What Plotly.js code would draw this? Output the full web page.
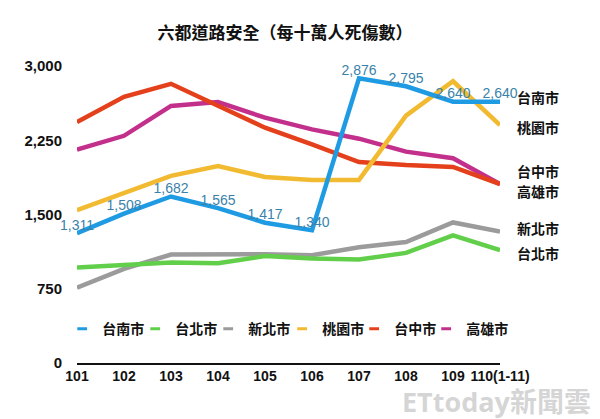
<!DOCTYPE html>
<html>
<head>
<meta charset="utf-8">
<script src="https://cdn.plot.ly/plotly-3.0.1.min.js"></script>
<style>html,body{margin:0;padding:0;background:#fff;}#chart{width:600px;height:419px;}</style>
</head>
<body>
<div id="chart"></div>
<script>
// Categories (years, ROC calendar)
const years = ['101','102','103','104','105','106','107','108','109','110(1-11)'];

// Series values: road casualties per 100,000 people
const tainan    = [1311, 1508, 1682, 1565, 1417, 1340, 2876, 2795, 2640, 2640];
const taipei    = [965, 985, 1015, 1008, 1080, 1055, 1045, 1112, 1290, 1140];
const newTaipei = [760, 950, 1096, 1102, 1099, 1089, 1169, 1222, 1420, 1328];
const taoyuan   = [1543, 1715, 1890, 1990, 1879, 1849, 1849, 2499, 2846, 2404];
const taichung  = [2433, 2689, 2820, 2596, 2377, 2208, 2030, 1999, 1980, 1808];
const kaohsiung = [2155, 2295, 2597, 2636, 2478, 2360, 2266, 2135, 2069, 1808];

const names = ['台南市','台北市','新北市','桃園市','台中市','高雄市'];
const yTicks = [0, 750, 1500, 2250, 3000];

const colors = {
  '台南市':'#1f9be3', '台北市':'#62cf4a', '新北市':'#9b9b9b',
  '桃園市':'#f2ba31', '台中市':'#e5401c', '高雄市':'#c2308c'
};
const seriesMap = {
  '台南市':tainan, '台北市':taipei, '新北市':newTaipei,
  '桃園市':taoyuan, '台中市':taichung, '高雄市':kaohsiung
};

const FONT = 'Liberation Sans, Arial, "Noto Sans CJK TC", sans-serif';
const CJK = '"Noto Sans CJK TC", "Noto Sans CJK SC", sans-serif';
const xIdx = years.map((_, i) => i);

const drawOrder = ['高雄市','台中市','桃園市','新北市','台北市','台南市'];
const traces = drawOrder.map(n => {
  const t = {
    x: xIdx, y: seriesMap[n], type:'scatter', mode:'lines', name:n,
    line:{color:colors[n], width:4.5}, showlegend:false, hoverinfo:'skip',
    cliponaxis:false
  };
  if (n === '台南市') {
    t.mode = 'lines+text';
    t.text = seriesMap[n].map(v => v.toLocaleString('en-US'));
    t.textposition = 'top center';
    t.textfont = {family:FONT, size:14, color:'#3a82a9'};
  }
  return t;
});

// legend entries (short dash swatches), split over two legend groups in one row
names.forEach((n, i) => {
  const t = {
    x:[null], y:[null], type:'scatter', mode:'markers', name:n,
    marker:{symbol:'line-ew', size:7, color:colors[n], line:{color:colors[n], width:3}},
    showlegend:true, hoverinfo:'skip',
    legend: i < 3 ? 'legend' : 'legend2'
  };
  if (i === 2 || i === 5) t.legendwidth = 46;
  traces.push(t);
});

// right-side city labels
const rightLabels = [
  ['台南市', 0.896], ['桃園市', 0.795], ['台中市', 0.648],
  ['高雄市', 0.580], ['新北市', 0.455], ['台北市', 0.370]
];
const annotations = rightLabels.map(([t, y]) => ({
  text:t, xref:'paper', yref:'paper', x:1, y:y, xanchor:'left', yanchor:'middle',
  xshift:15, showarrow:false, font:{family:CJK, size:14, color:'#111', weight:'bold'}
}));
annotations.push({
  text:'ETtoday新聞雲', xref:'paper', yref:'paper', x:1.22, y:-0.13,
  xanchor:'right', yanchor:'middle', showarrow:false,
  font:{family:'"Open Sans", "Noto Sans CJK TC", sans-serif', size:27, color:'rgba(195,195,195,0.7)', weight:'bold'}
});

const legendBase = {
  orientation:'h', y:0.114, yanchor:'middle', xanchor:'left',
  font:{family:CJK, size:14, color:'#111', weight:'bold'},
  entrywidthmode:'pixels', itemwidth:30, bgcolor:'rgba(0,0,0,0)', traceorder:'normal'
};

const layout = {
  width:600, height:419,
  margin:{l:77, r:100, t:66, b:56},
  paper_bgcolor:'#fff', plot_bgcolor:'#fff',
  title:{text:'六都道路安全（每十萬人死傷數）', x:0.475, xref:'container', xanchor:'center',
         y:0.92, yref:'container', yanchor:'middle',
         font:{family:CJK, size:17, color:'#111', weight:'bold'}},
  xaxis:{
    range:[0, 9], tickmode:'array', tickvals:xIdx, ticktext:years, tickangle:0,
    showgrid:false, zeroline:false, showline:true, linecolor:'#111', linewidth:1.5,
    ticks:'', tickfont:{family:FONT, size:14, color:'#111', weight:'bold'}, fixedrange:true
  },
  yaxis:{
    range:[0, 3000], tickmode:'array', tickvals:yTicks, tickformat:',d',
    showgrid:false, zeroline:false, showline:false, ticks:'',
    ticklabelstandoff:14,
    tickfont:{family:FONT, size:15, color:'#111', weight:'bold'}, fixedrange:true
  },
  showlegend:true,
  legend: Object.assign({}, legendBase, {x:-0.035, entrywidth:28}),
  legend2: Object.assign({}, legendBase, {x:0.485, entrywidth:27}),
  annotations:annotations
};

Plotly.newPlot('chart', traces, layout, {displayModeBar:false, staticPlot:true});
</script>
</body>
</html>
